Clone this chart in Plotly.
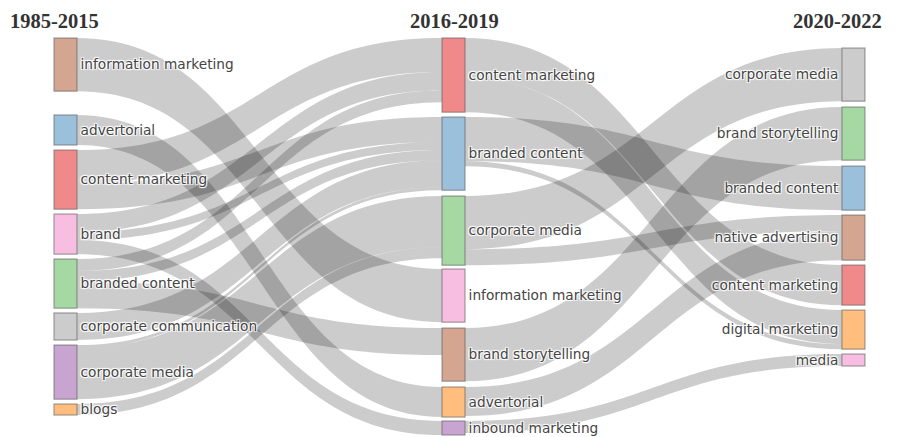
import plotly.graph_objects as go

# ---------------- data ----------------
periods = ["1985-2015", "2016-2019", "2020-2022"]

left_nodes = ["information marketing", "advertorial", "content marketing", "brand",
              "branded content", "corporate communication", "corporate media", "blogs"]
mid_nodes = ["content marketing", "branded content", "corporate media", "information marketing",
             "brand storytelling", "advertorial", "inbound marketing"]
right_nodes = ["corporate media", "brand storytelling", "branded content", "native advertising",
               "content marketing", "digital marketing", "media"]

# links 1985-2015 -> 2016-2019
l2m_source = ["information marketing", "advertorial", "content marketing", "content marketing",
              "brand", "brand", "brand", "branded content", "branded content", "branded content",
              "corporate communication", "corporate media", "corporate media", "blogs"]
l2m_target = ["information marketing", "advertorial", "content marketing", "branded content",
              "content marketing", "branded content", "inbound marketing", "content marketing",
              "branded content", "brand storytelling", "branded content", "branded content",
              "corporate media", "corporate media"]
l2m_value = [53, 30, 34, 25, 18, 8, 14, 12, 10, 27, 27, 3, 51, 11]

# links 2016-2019 -> 2020-2022
m2r_source = ["content marketing", "content marketing", "branded content", "branded content",
              "corporate media", "corporate media", "brand storytelling", "advertorial",
              "inbound marketing"]
m2r_target = ["content marketing", "digital marketing", "branded content", "digital marketing",
              "corporate media", "native advertising", "brand storytelling", "native advertising",
              "media"]
m2r_value = [40, 34, 44, 5, 53, 16, 53, 29, 12]

# ---------------- styles / layout ----------------
RED = "rgb(240,138,138)"
BLUE = "rgb(155,192,220)"
GREEN = "rgb(166,216,164)"
PINK = "rgb(248,190,225)"
BROWN = "rgb(212,166,145)"
ORANGE = "rgb(255,190,125)"
PURPLE = "rgb(200,165,208)"
GRAY = "rgb(204,204,204)"

left_colors = [BROWN, BLUE, RED, PINK, GREEN, GRAY, PURPLE, ORANGE]
mid_colors = [RED, BLUE, GREEN, PINK, BROWN, ORANGE, PURPLE]
right_colors = [GRAY, GREEN, BLUE, BROWN, RED, ORANGE, PINK]

# node centre positions (fractions of the plot area)
left_y = [0.0709, 0.2453, 0.3776, 0.5229, 0.6549, 0.7693, 0.8909, 0.9907]
mid_y = [0.0989, 0.3083, 0.5136, 0.6869, 0.8443, 0.9707, 1.0400]
right_y = [0.0976, 0.2549, 0.4003, 0.5323, 0.6589, 0.7776, 0.8587]
col_x = [0.0210, 0.4874, 0.9681]

labels = left_nodes + mid_nodes + right_nodes
colors = left_colors + mid_colors + right_colors
node_x = [col_x[0]] * len(left_nodes) + [col_x[1]] * len(mid_nodes) + [col_x[2]] * len(right_nodes)
node_y = left_y + mid_y + right_y

nL, nM = len(left_nodes), len(mid_nodes)
src = [left_nodes.index(s) for s in l2m_source] + [nL + mid_nodes.index(s) for s in m2r_source]
tgt = [nL + mid_nodes.index(t) for t in l2m_target] + [nL + nM + right_nodes.index(t) for t in m2r_target]
val = l2m_value + m2r_value

fig = go.Figure(go.Sankey(
    arrangement="freeform",
    node=dict(
        label=labels,
        color=colors,
        x=node_x,
        y=node_y,
        pad=5,
        thickness=23,
        line=dict(color="rgba(90,90,90,0.55)", width=1.2),
    ),
    link=dict(source=src, target=tgt, value=val, color="rgba(0,0,0,0.2)"),
    textfont=dict(family="DejaVu Sans", size=13.7, color="#444"),
))

W, H = 892, 429
ML, MR, MT = 40, 20, 30
PH = 375
MB = H - MT - PH
pw = W - ML - MR
# header anchor x (figure px) and anchor side
header_px = [46, 446, 876]
header_anchor = ["center", "center", "right"]
for p, xp, xa in zip(periods, header_px, header_anchor):
    fig.add_annotation(
        x=(xp - ML) / pw, y=1 + (MT - 13) / PH, xref="paper", yref="paper",
        text=f"<b>{p}</b>", showarrow=False, xanchor=xa, yanchor="middle",
        font=dict(family="Liberation Serif", size=20.5, color="#333"),
    )

fig.update_layout(
    width=W, height=H,
    margin=dict(l=ML, r=MR, t=MT, b=MB),
    paper_bgcolor="white", plot_bgcolor="white",
)

fig.write_html("out.html")
